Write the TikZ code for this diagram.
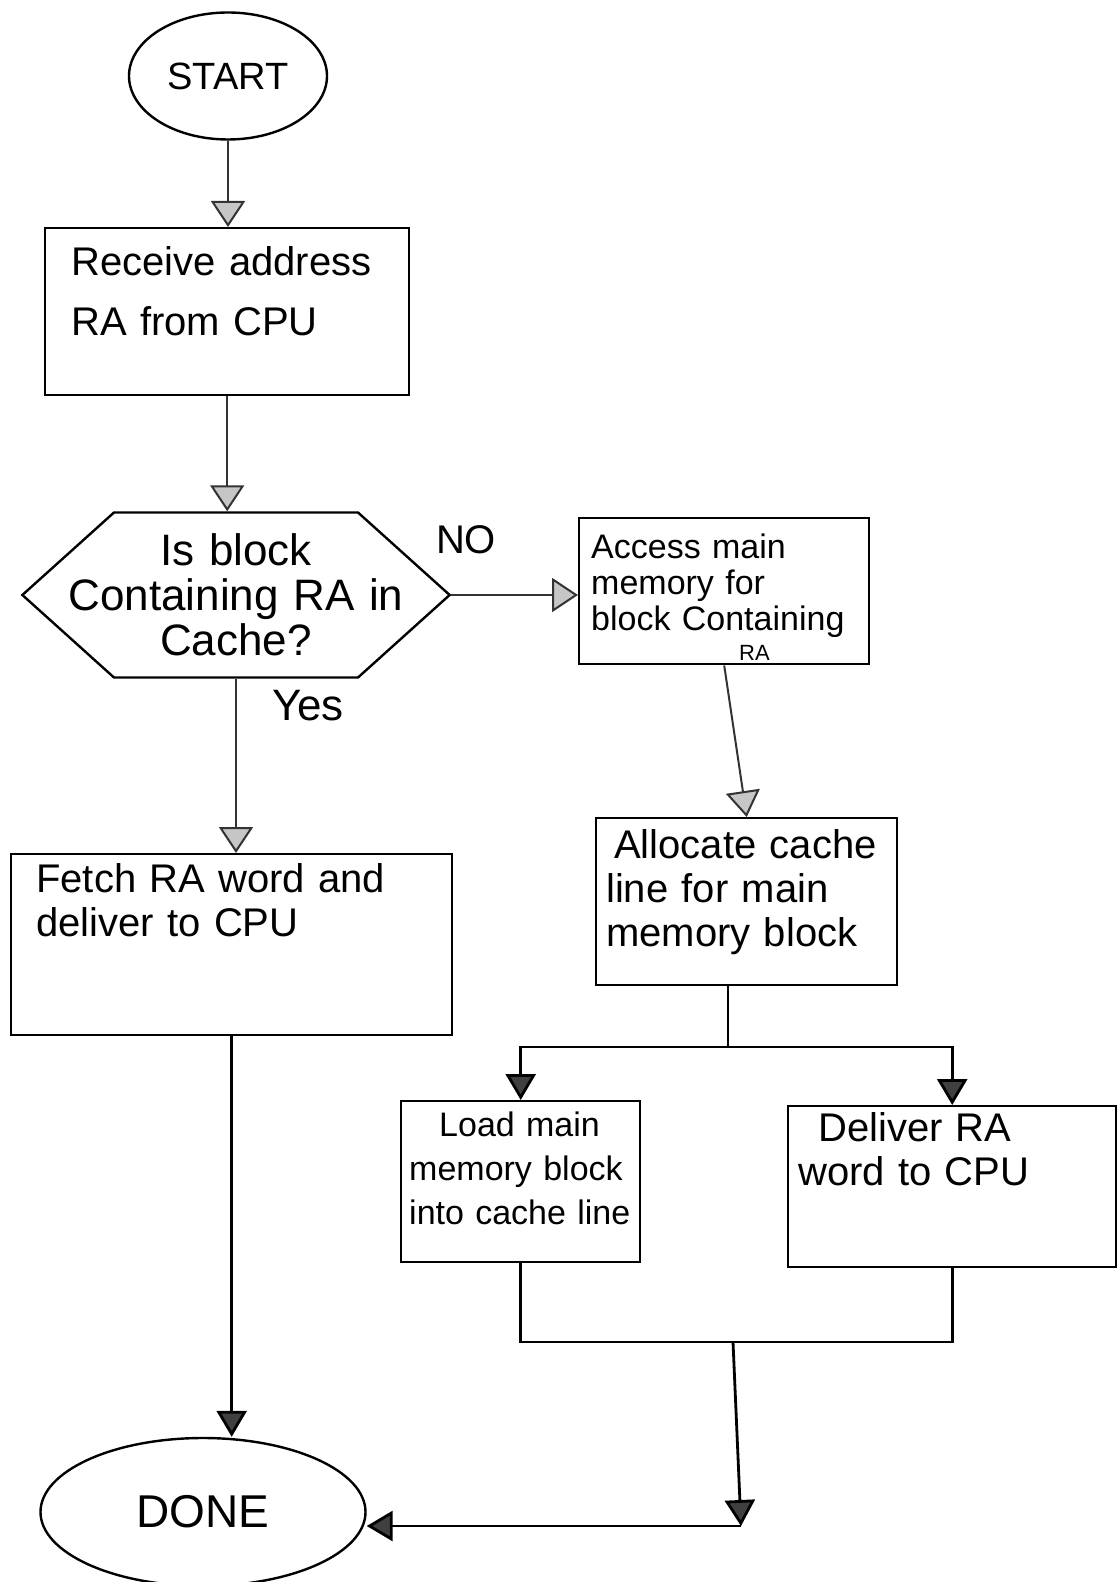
\documentclass[tikz,border=0pt]{standalone}
\usepackage{fontspec}
\setmainfont{Liberation Sans}
\usetikzlibrary{arrows.meta,shapes.geometric,shapes.symbols}

\begin{document}
\begin{tikzpicture}[x=.5pt,y=-.5pt,line width=1.2pt,
  stepbox/.style={draw,anchor=north west,align=left,font=\fontsize{20}{22}\selectfont,text height=15pt},
  term/.style={draw,ellipse,inner sep=0pt},
  conn/.style={line width=1pt,draw=black!80},
  arr/.style={conn,-{Triangle[width=17pt,length=13pt,fill=gray!45]}},
  arrdark/.style={line width=1.4pt,-{Triangle[width=15pt,length=13pt,fill=black!75]}},
  lbl/.style={inner sep=0pt,font=\fontsize{20}{22}\selectfont}]
\path[use as bounding box] (0,0) rectangle (1117,1582);
% terminals
\node[term,minimum width=99pt,minimum height=63.5pt,font=\fontsize{19}{19}\selectfont] (start) at (228,76) {START};
\node[term,minimum width=162.5pt,minimum height=74pt,font=\fontsize{23}{23}\selectfont] (done) at (203,1512) {DONE};
% steps
\node[stepbox,font=\fontsize{20}{30}\selectfont,text width=156pt,inner xsep=13pt,inner ysep=8.5pt,text depth=51.5pt] (recv) at (44,227) {Receive address\\RA from CPU};
\node[draw,shape=signal,signal to=west and east,signal pointer angle=84,minimum height=82.5pt,inner sep=0pt,text width=122pt,align=center,font=\fontsize{22}{22.5}\selectfont] (dec) at (236,595) {\makebox[0pt]{Is block}\\\makebox[0pt]{Containing RA in}\\\makebox[0pt]{Cache?}};
\node[stepbox,font=\fontsize{17}{18}\selectfont,text height=13pt,text width=133pt,inner xsep=6pt,inner ysep=7pt,text depth=46pt] (access) at (578,517) {Access main\\memory for\\block Containing\\[-3pt]\hspace*{74pt}{\fontsize{11}{11}\selectfont RA}};
\node[stepbox,text width=195.5pt,inner xsep=12.5pt,inner ysep=4pt,text depth=67.5pt] (fetch) at (10,853) {Fetch RA word and\\deliver to CPU};
\node[stepbox,text width=140.5pt,inner xsep=5pt,inner ysep=5pt,text depth=58.5pt] (alloc) at (595,817) {\hspace*{4pt}Allocate cache\\line for main\\memory block};
\node[stepbox,font=\fontsize{17}{22}\selectfont,text height=13pt,text width=111.5pt,inner xsep=4pt,inner ysep=4.5pt,text depth=58.5pt] (load) at (400,1100) {\hspace*{15pt}Load main\\memory block\\into cache line};
\node[stepbox,text width=154pt,inner xsep=5pt,inner ysep=2.5pt,text depth=60.5pt] (deliver) at (787,1105) {\hspace*{10pt}Deliver RA\\word to CPU};
% labels
\node[lbl] (no) at (466,540) {NO};
\node[lbl,font=\fontsize{22}{22}\selectfont] (yes) at (308,706) {Yes};
% junctions
\coordinate (split) at (728,1047);
\coordinate (merge) at (733,1342);
\coordinate (corner) at (741,1526);
% connectors
\draw[arr] (start.south) -- (start.south |- recv.north);
\draw[arr] (recv.south) -- (recv.south |- dec.north);
\draw[arr] (dec.east) -- (dec.east -| access.west);
\draw[arr] (dec.south) -- (dec.south |- fetch.north);
\draw[arr] (access.south) -- (alloc.north);
\draw[line width=1.4pt] (split |- alloc.south) -- (split);
\draw[arrdark] (split) -| (load.north);
\draw[arrdark] (split) -| (deliver.north);
\draw[line width=1.4pt] (load.south) |- (merge) -| (deliver.south);
\draw[arrdark] (merge) -- (corner);
\draw[arrdark] (corner) -- (corner -| done.east);
\draw[arrdark] (fetch.south) -- (fetch.south |- done.north);
\end{tikzpicture}
\end{document}
